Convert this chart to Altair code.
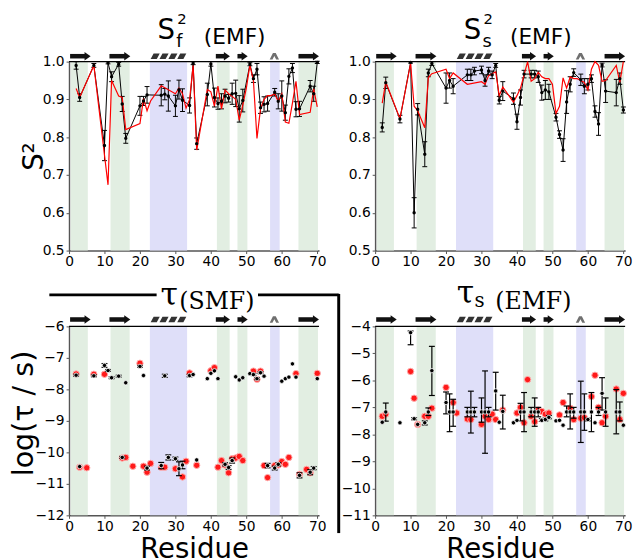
import altair as alt
import pandas as pd

# ---------------- secondary structure / shading ----------------
green_start = [0.5, 11.7, 41.7, 47.5, 64.7]
green_end = [5.3, 17.1, 45.3, 50.3, 70.2]
blue_start = [22.8, 56.7]
blue_end = [33.3, 59.4]
strand_start = [0.3, 11.4, 41.4, 47.5, 64.7]
strand_end = [6.0, 17.2, 45.3, 50.3, 70.4]
helix_pos = [24.3, 26.8, 29.3, 31.8]
turn_pos = [57.9]

# ---------------- S_f^2 (EMF) ----------------
sf_res = [2, 3, 7, 10, 11, 12, 14, 15, 16, 20, 21, 22, 26, 27, 28, 30, 31, 32, 34, 35,
          36, 39, 40, 41, 42, 43, 44, 45, 46, 47, 48, 49, 51, 52, 53, 54, 55, 56, 58, 59,
          60, 61, 62, 63, 64, 65, 68, 69, 70]
sf_val = [0.99, 0.905, 0.99, 0.778, 0.997, 0.96, 0.993, 0.888, 0.797, 0.883,
          0.896, 0.912, 0.911, 0.914, 0.909, 0.883, 0.926, 0.898, 0.884, 0.996,
          0.783, 0.913, 0.994, 0.905, 0.889, 0.895, 0.909, 0.903, 0.915, 0.916,
          0.875, 0.897, 0.993, 0.955, 0.98, 0.878, 0.887, 0.889, 0.919, 0.895,
          0.909, 0.865, 0.961, 0.983, 0.874, 0.875, 0.935, 0.915, 0.998]
sf_err = [0.01, 0.01, 0.005, 0.04, 0.003, 0.013, 0.005, 0.02, 0.013, 0.025,
          0.012, 0.022, 0.028, 0.015, 0.04, 0.028, 0.025, 0.03, 0.02, 0.004,
          0.015, 0.03, 0.006, 0.025, 0.015, 0.02, 0.018, 0.01, 0.028, 0.035,
          0.035, 0.03, 0.004, 0.01, 0.015, 0.015, 0.02, 0.02, 0.01, 0.02,
          0.04, 0.02, 0.02, 0.012, 0.02, 0.02, 0.015, 0.02, 0.003]
sf_sim_res = [2, 3, 7, 11, 12, 14, 15, 16, 20, 21, 22, 23, 26, 30, 31, 32, 33, 34, 35, 36,
              39, 40, 41, 42, 43, 44, 45, 46, 47, 48, 49, 50, 51, 52, 53, 54, 55, 56, 57, 58,
              59, 60, 61, 62, 63, 64, 65, 68, 69, 70]
sf_sim_val = [0.929, 0.905, 0.99, 0.674, 0.95, 0.909, 0.905, 0.82, 0.836, 0.902,
              0.87, 0.896, 0.936, 0.915, 0.93, 0.915, 0.877, 0.9, 0.99, 0.766,
              0.926, 0.92, 0.882, 0.935, 0.875, 0.925, 0.915, 0.908, 0.9, 0.845,
              0.885, 0.93, 0.99, 0.95, 0.797, 0.875, 0.9, 0.91, 0.91, 0.915,
              0.895, 0.915, 0.84, 0.837, 0.89, 0.948, 0.86, 0.866, 0.928, 0.88]

# ---------------- S_s^2 (EMF) ----------------
ss_res = [2, 3, 7, 10, 11, 12, 14, 15, 16, 20, 21, 22, 26, 27, 28, 30, 31, 32, 33, 34,
          35, 36, 39, 40, 41, 42, 44, 45, 46, 47, 48, 49, 51, 52, 53, 54, 55, 56, 58, 59,
          60, 61, 62, 63, 64, 65, 68, 69, 70]
ss_val = [0.826, 0.944, 0.848, 0.998, 0.60, 0.874, 0.755, 0.97, 0.995, 0.93,
          0.95, 0.935, 0.965, 0.965, 0.975, 0.978, 0.95, 0.975, 0.965, 0.99,
          0.898, 0.922, 0.902, 0.841, 0.905, 0.967, 0.967, 0.967, 0.96, 0.918,
          0.925, 0.92, 0.853, 0.807, 0.766, 0.893, 0.94, 0.971, 0.952, 0.935,
          0.94, 0.955, 0.868, 0.835, 0.991, 0.922, 0.918, 0.955, 0.872]
ss_err = [0.012, 0.015, 0.01, 0.002, 0.04, 0.015, 0.033, 0.01, 0.005, 0.04,
          0.02, 0.02, 0.015, 0.015, 0.01, 0.01, 0.015, 0.01, 0.01, 0.005,
          0.01, 0.025, 0.015, 0.02, 0.02, 0.01, 0.01, 0.01, 0.015, 0.02,
          0.025, 0.02, 0.01, 0.01, 0.03, 0.03, 0.02, 0.01, 0.015, 0.02,
          0.015, 0.01, 0.015, 0.03, 0.005, 0.03, 0.035, 0.015, 0.008]
ss_sim_res = [2, 3, 7, 10, 11, 12, 14, 15, 16, 20, 21, 22, 26, 30, 31, 32, 34, 35, 36, 39,
              40, 41, 42, 43, 44, 45, 46, 47, 48, 49, 50, 51, 52, 53, 54, 55, 56, 57, 58, 59,
              60, 61, 62, 63, 64, 65, 68, 69, 70]
ss_sim_val = [0.89, 0.946, 0.849, 0.995, 0.882, 0.87, 0.825, 0.958, 0.968, 0.98,
              0.955, 0.97, 0.94, 0.947, 0.94, 0.963, 0.973, 0.91, 0.933, 0.893,
              0.91, 0.93, 0.965, 1.0, 0.948, 0.955, 0.972, 0.96, 0.955, 0.955,
              0.94, 0.863, 0.882, 0.957, 0.93, 0.96, 0.955, 0.955, 0.95, 0.945,
              0.925, 0.98, 1.0, 0.99, 0.948, 0.95, 0.99, 0.945, 1.0]

# ---------------- tau (SMF) ----------------
tsmf_res_a = [2, 7, 10, 11, 12, 14, 16, 20, 21, 27, 34, 35, 39, 40, 41, 42, 47, 48, 49, 51,
              52, 53, 54, 55, 60, 61, 62, 63, 64, 70]
tsmf_val_a = [-7.55, -7.57, -7.24, -7.40, -7.63, -7.58, -7.79, -7.27, -7.56, -7.57,
              -7.56, -7.53, -7.66, -7.49, -7.41, -7.66, -7.6, -7.7, -7.63, -7.5,
              -7.53, -7.66, -7.47, -7.58, -7.74, -7.66, -7.61, -7.19, -7.61, -7.66]
tsmf_err_a = [0.03, 0.03, 0.06, 0.03, 0.03, 0.03, 0.02, 0.03, 0.02, 0.05,
              0.04, 0.02, 0.02, 0.02, 0.02, 0.02, 0.02, 0.02, 0.02, 0.02,
              0.03, 0.03, 0.03, 0.02, 0.02, 0.02, 0.02, 0.02, 0.02, 0.02]
tsmf_res_b = [3, 15, 22, 26, 28, 30, 31, 32, 36, 44, 45, 46, 56, 58, 59, 65, 68, 69]
tsmf_val_b = [-10.45, -10.16, -10.5, -10.42, -10.16, -10.2, -10.52, -10.4, -10.24, -10.38,
              -10.48, -10.26, -10.42, -10.5, -10.38, -10.73, -10.63, -10.5]
tsmf_err_b = [0.02, 0.03, 0.06, 0.1, 0.08, 0.05, 0.22, 0.12, 0.02, 0.05,
              0.06, 0.08, 0.07, 0.06, 0.05, 0.08, 0.08, 0.05]
tsmf_sim_res = [2, 7, 10, 20, 34, 40, 41, 52, 53, 54, 64, 70,
                3, 5, 15, 16, 18, 21, 22, 23, 26, 27, 30, 32, 33, 36, 42, 43, 44, 45, 46, 47,
                48, 49, 55, 56, 58, 59, 60, 61, 62, 65, 67, 68]
tsmf_sim_val = [-7.51, -7.52, -7.52, -7.17, -7.48, -7.41, -7.31, -7.42, -7.68, -7.42, -7.5, -7.49,
                -10.47, -10.49, -10.18, -10.16, -10.44, -10.44, -10.63, -10.35, -10.47, -10.47,
                -10.52, -10.78, -10.28, -10.41, -10.47, -10.26, -10.4, -10.65, -10.2, -10.18,
                -10.13, -10.26, -10.42, -10.8, -10.42, -10.4, -10.29, -10.38, -10.16, -10.7,
                -10.54, -10.65]

# ---------------- tau_s (EMF) ----------------
ts_res = [2, 3, 7, 10, 11, 12, 14, 15, 16, 20, 21, 22, 26, 27, 28, 30, 31, 32, 34, 35,
          36, 39, 40, 41, 42, 44, 45, 46, 47, 48, 49, 51, 52, 53, 54, 55, 56, 58, 59, 60,
          61, 62, 63, 64, 65, 68, 69, 70]
ts_val = [-7.55, -7.17, -7.57, -4.23, -7.42, -7.63, -7.57, -7.17, -5.64, -6.82,
          -7.17, -7.17, -7.17, -7.17, -7.17, -7.17, -7.17, -7.17, -6.39, -7.55,
          -7.15, -7.57, -7.48, -7.17, -7.17, -7.17, -7.17, -7.17, -7.48, -7.45,
          -7.37, -7.5, -7.48, -7.66, -7.17, -7.17, -7.17, -7.17, -7.17, -7.45,
          -7.17, -7.57, -7.17, -6.48, -7.17, -7.17, -7.17, -7.66]
ts_hi = [-7.55, -6.84, -7.57, -4.17, -7.38, -7.63, -7.5, -7.02, -4.74, -6.43,
         -6.5, -6.7, -7.0, -6.4, -7.0, -6.65, -5.65, -7.0, -5.7, -7.55,
         -6.55, -7.57, -7.48, -6.85, -6.45, -7.0, -6.65, -7.0, -7.42, -7.4,
         -7.3, -7.5, -7.48, -7.66, -6.95, -6.5, -7.0, -6.03, -6.5, -7.4,
         -6.45, -7.57, -7.0, -5.9, -6.65, -6.34, -6.8, -7.66]
ts_lo = [-7.55, -7.51, -7.57, -4.68, -7.46, -7.63, -7.65, -7.3, -6.56, -7.24,
         -7.9, -7.7, -7.35, -7.95, -7.35, -7.55, -8.7, -7.35, -7.1, -7.55,
         -7.8, -7.57, -7.48, -7.5, -7.9, -7.35, -7.7, -7.35, -7.52, -7.5,
         -7.42, -7.5, -7.48, -7.66, -7.35, -7.8, -7.4, -8.3, -7.85, -7.5,
         -7.9, -7.57, -7.3, -7.1, -7.7, -7.98, -7.5, -7.66]
ts_sim_res = [2, 3, 10, 11, 12, 14, 15, 16, 20, 22, 23, 26, 27, 30, 31, 32, 33, 34, 36, 40,
              41, 42, 43, 44, 45, 46, 47, 48, 49, 52, 53, 55, 56, 58, 59, 61, 62, 63, 64, 65,
              68, 69, 70]
ts_sim_val = [-7.33, -7.25, -5.67, -6.66, -7.63, -7.33, -7.33, -7.03, -6.26, -6.82,
              -7.21, -7.43, -7.45, -7.63, -7.33, -7.45, -7.25, -7.45, -7.1, -7.21,
              -7.0, -7.57, -5.97, -7.33, -7.53, -7.1, -7.15, -7.25, -7.21, -7.28,
              -6.82, -7.03, -7.45, -7.4, -7.38, -6.6, -5.81, -7.0, -7.57, -7.33,
              -6.32, -7.45, -6.48]

# ---------------- layout / style ----------------
W, H = 254, 192
XSCALE = alt.Scale(domain=[0, 70.5], nice=False, zero=False)
GREEN = "#e2eee2"
BLUE = "#dfdff9"
XTICKS = list(range(0, 71, 10))

band_df = pd.DataFrame({
    "start": green_start + blue_start,
    "end": green_end + blue_end,
    "kind": ["strand"] * len(green_start) + ["helix"] * len(blue_start),
})
strand_df = pd.DataFrame({"start": strand_start, "end": strand_end})
strand_df["body_end"] = strand_df["end"] - 1.4
strand_df["head"] = strand_df["end"] - 0.8
helix_df = pd.DataFrame({"pos": helix_pos})
turn_df = pd.DataFrame({"pos": turn_pos})
one = pd.DataFrame({"k": [0]})


def xaxis(bottom):
    if bottom:
        return alt.Axis(values=XTICKS, title="Residue", titleFontSize=28, titleY=21,
                        labelFlush=False, labelOverlap=False, labelPadding=1)
    return alt.Axis(values=XTICKS, title=None, labelFlush=False, labelOverlap=False,
                    labelPadding=1)


def X(field, bottom):
    return alt.X(field, type="quantitative", scale=XSCALE, axis=xaxis(bottom))


def txt(s, x, y, size, font="DejaVu Sans"):
    return alt.Chart(one).mark_text(text=s, font=font, fontSize=size, align="left",
                                    baseline="alphabetic", color="black").encode(
        x=alt.value(x), y=alt.value(y))


def decor(bottom):
    cy = -7 if bottom else -5.5
    bands = alt.Chart(band_df).mark_rect().encode(
        x=X("start", bottom), x2="end",
        y=alt.value(0), y2=alt.value(H),
        color=alt.Color("kind:N", scale=alt.Scale(domain=["strand", "helix"],
                                                   range=[GREEN, BLUE]), legend=None))
    body = alt.Chart(strand_df).mark_rect(color="#111111", clip=False).encode(
        x=X("start", bottom), x2="body_end",
        y=alt.value(cy - 2.3), y2=alt.value(cy + 2.3))
    head = alt.Chart(strand_df).mark_point(
        shape="M-0.7,-1L0.75,0L-0.7,1Z", filled=True, color="#111111",
        size=72, opacity=1, clip=False).encode(x=X("head", bottom), y=alt.value(cy))
    helix = alt.Chart(helix_df).mark_point(
        shape="M-1,0.6L-0.35,-0.6L1,-0.6L0.35,0.6Z", filled=True, color="#333333",
        size=85, opacity=1, clip=False).encode(x=X("pos", bottom), y=alt.value(cy))
    turn = alt.Chart(turn_df).mark_point(
        shape="M-1,0.7L-0.3,-0.7L0.3,-0.7L1,0.7L0.4,0.7L0,-0.05L-0.4,0.7Z",
        filled=True, color="#707070", size=90, opacity=1, clip=False).encode(
        x=X("pos", bottom), y=alt.value(cy))
    spine = alt.Chart(one).mark_rule(color="black", strokeWidth=1.5).encode(
        x=alt.value(0), x2=alt.value(W), y=alt.value(0))
    return [bands, body, head, helix, turn, spine]


def s2_panel(res, val, err, sres, sval, ytitle, sub):
    yaxis = alt.Axis(values=[0.5, 0.6, 0.7, 0.8, 0.9, 1.0], format=".1f",
                     title=ytitle, titleFontSize=28, titleX=-35, titleY=96,
                     titleAlign="center", titleBaseline="middle") if ytitle else \
        alt.Axis(values=[0.5, 0.6, 0.7, 0.8, 0.9, 1.0], format=".1f", title=None)
    ysc = alt.Scale(domain=[0.5, 1.0], nice=False, zero=False)
    d = pd.DataFrame({"res": res, "val": val, "err": err})
    d["lo"] = d["val"] - d["err"]
    d["hi"] = d["val"] + d["err"]
    caps = pd.concat([d[["res", "lo"]].rename(columns={"lo": "y"}),
                      d[["res", "hi"]].rename(columns={"hi": "y"})])
    s = pd.DataFrame({"res": sres, "val": sval})
    Y = lambda f: alt.Y(f, type="quantitative", scale=ysc, axis=yaxis)
    layers = decor(False)
    layers += [
        alt.Chart(d).mark_line(color="black", strokeWidth=1).encode(x=X("res", False), y=Y("val")),
        alt.Chart(d).mark_rule(color="black", strokeWidth=1).encode(
            x=X("res", False), y=Y("lo"), y2="hi"),
        alt.Chart(caps).mark_tick(orient="horizontal", size=5, thickness=1, color="black",
                                  opacity=1).encode(x=X("res", False), y=Y("y")),
        alt.Chart(s).mark_line(color="#ff0000", strokeWidth=1.2).encode(x=X("res", False), y=Y("val")),
        alt.Chart(d).mark_point(filled=True, color="black", size=12, opacity=1).encode(
            x=X("res", False), y=Y("val")),
        txt("S", 90, -23, 28),
        txt(sub, 109, -15, 18),
        txt("2", 110, -38, 15),
        txt("(EMF)", 137, -18, 22),
    ]
    return alt.layer(*layers).properties(width=W, height=H)


def tau_panel(d, s, ydom, ytitle, titles, extra):
    yv = list(range(ydom[0], ydom[1] + 1))
    if ytitle:
        yaxis = alt.Axis(values=yv, format="d", title=ytitle,
                         titleFontSize=29, titleX=-46, titleY=88, titleAlign="center",
                         titleBaseline="middle")
    else:
        yaxis = alt.Axis(values=yv, format="d", title=None)
    ysc = alt.Scale(domain=list(ydom), nice=False, zero=False)
    Y = lambda f: alt.Y(f, type="quantitative", scale=ysc, axis=yaxis)
    bars = d[(d["hi"] - d["lo"]) > 0.05]
    caps = pd.concat([bars[["res", "lo"]].rename(columns={"lo": "y"}),
                      bars[["res", "hi"]].rename(columns={"hi": "y"})])
    layers = decor(True)
    layers += [
        alt.Chart(s).mark_point(filled=True, color="#ff1a1a", stroke="#ffb0b0",
                                strokeWidth=1, size=42, opacity=1).encode(
            x=X("res", True), y=Y("val")),
        alt.Chart(bars).mark_rule(color="black", strokeWidth=1.2).encode(
            x=X("res", True), y=Y("lo"), y2="hi"),
        alt.Chart(caps).mark_tick(orient="horizontal", size=6, thickness=1.2, color="black",
                                  opacity=1).encode(x=X("res", True), y=Y("y")),
        alt.Chart(d).mark_point(filled=True, color="black", stroke="white", strokeWidth=0.8,
                                size=20, opacity=1).encode(x=X("res", True), y=Y("val")),
    ]
    layers += titles + extra
    return alt.layer(*layers).properties(width=W, height=H)


p1 = s2_panel(sf_res, sf_val, sf_err, sf_sim_res, sf_sim_val, "S\u00b2", "f")
p2 = s2_panel(ss_res, ss_val, ss_err, ss_sim_res, ss_sim_val, None, "s")

d3 = pd.DataFrame({"res": tsmf_res_a + tsmf_res_b, "val": tsmf_val_a + tsmf_val_b,
                   "err": tsmf_err_a + tsmf_err_b})
d3["lo"] = d3["val"] - d3["err"]
d3["hi"] = d3["val"] + d3["err"]
s3 = pd.DataFrame({"res": tsmf_sim_res, "val": tsmf_sim_val})
frame3 = [
    alt.Chart(one).mark_rule(color="black", strokeWidth=3).encode(
        x=alt.value(-20), x2=alt.value(89), y=alt.value(-32)),
    alt.Chart(one).mark_rule(color="black", strokeWidth=3).encode(
        x=alt.value(192), x2=alt.value(274), y=alt.value(-32)),
    alt.Chart(one).mark_rule(color="black", strokeWidth=3).encode(
        x=alt.value(274), y=alt.value(-33), y2=alt.value(210)),
]
p3 = tau_panel(d3, s3, (-12, -6), "log(\u03c4 / s)",
               [txt("\u03c4", 93, -22, 32, "DejaVu Serif"),
                txt("(SMF)", 112, -18, 24, "DejaVu Serif")], frame3)

d4 = pd.DataFrame({"res": ts_res, "val": ts_val, "lo": ts_lo, "hi": ts_hi})
s4 = pd.DataFrame({"res": ts_sim_res, "val": ts_sim_val})
p4 = tau_panel(d4, s4, (-11, -4), None,
               [txt("\u03c4", 83, -24, 32, "DejaVu Serif"),
                txt("s", 101, -20, 20, "DejaVu Serif"),
                txt("(EMF)", 122, -18, 24, "DejaVu Serif")], [])

chart = alt.concat(p1, p2, p3, p4, columns=2, spacing={"row": 77, "column": 57},
                   bounds="flush").properties(
    padding={"left": 2, "top": 0, "right": 0, "bottom": 0}
).configure_view(stroke=None).configure_axis(
    labelFont="DejaVu Sans", labelFontSize=14, labelColor="black",
    titleFont="DejaVu Sans", titleFontWeight="normal", titleColor="black",
    domainColor="#555555", domainWidth=1.5, tickColor="#555555", tickSize=3, grid=False
)

chart.save("out.html", embed_options={"renderer": "svg", "actions": False})
